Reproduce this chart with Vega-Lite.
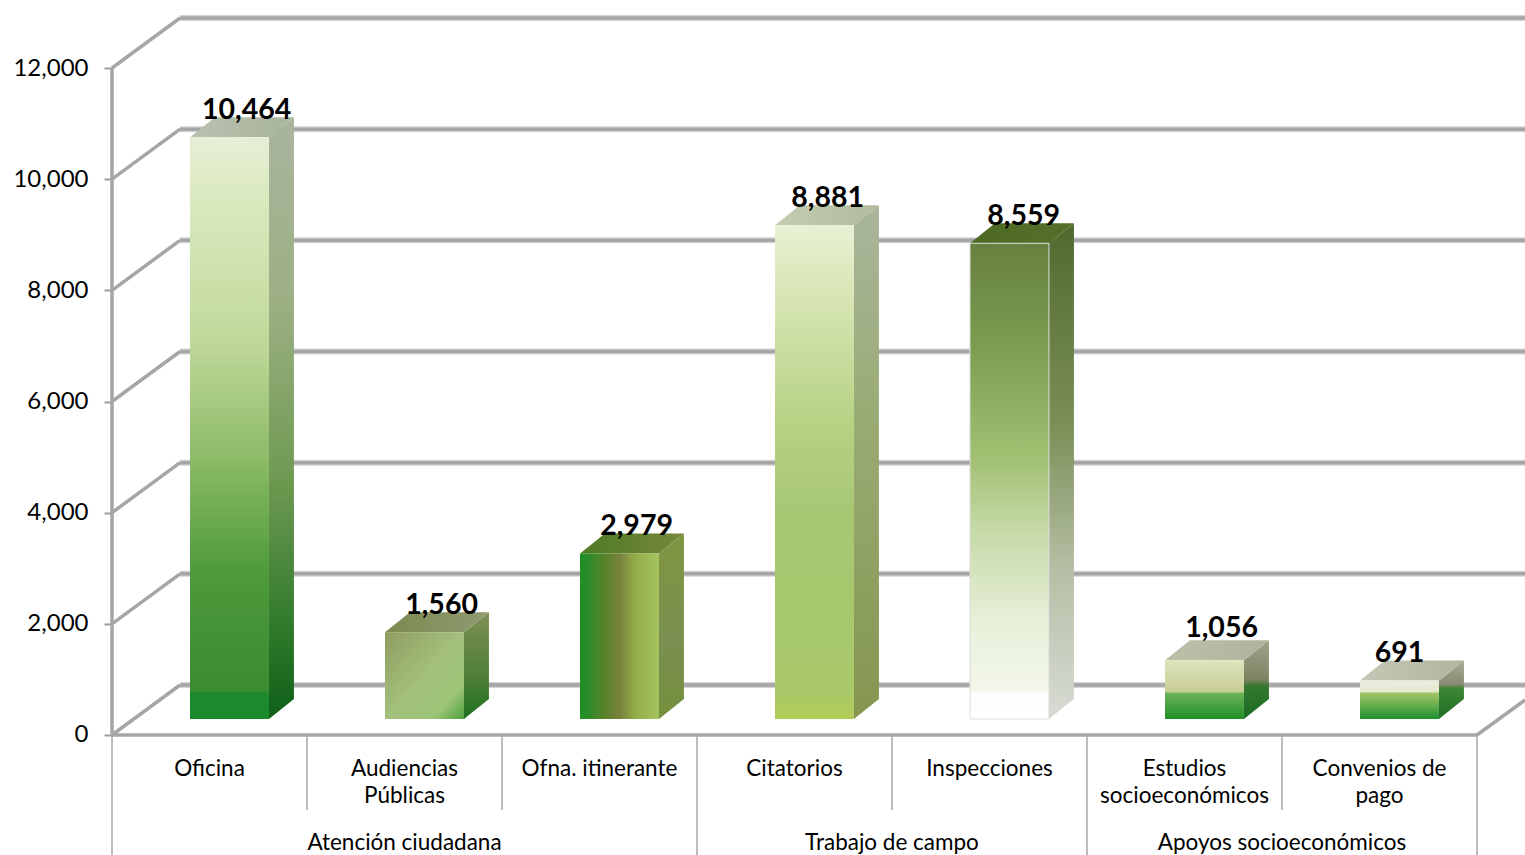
{
"$schema":"https://vega.github.io/schema/vega-lite/v6.json",
"width":1525,"height":855,"padding":0,"autosize":{"type":"none"},
"background":"white",
"view":{"stroke":null},
"config":{"font":"Lato"},
"datasets":{
"barras":[
{"orden":0,"grupo":"Atención ciudadana","categoria":"Oficina","valor":10464},
{"orden":1,"grupo":"Atención ciudadana","categoria":"Audiencias\nPúblicas","valor":1560},
{"orden":2,"grupo":"Atención ciudadana","categoria":"Ofna. itinerante","valor":2979},
{"orden":3,"grupo":"Trabajo de campo","categoria":"Citatorios","valor":8881},
{"orden":4,"grupo":"Trabajo de campo","categoria":"Inspecciones","valor":8559},
{"orden":5,"grupo":"Apoyos socioeconómicos","categoria":"Estudios\nsocioeconómicos","valor":1056},
{"orden":6,"grupo":"Apoyos socioeconómicos","categoria":"Convenios de\npago","valor":691}],
"reticula":[{"tick":0},{"tick":2000},{"tick":4000},{"tick":6000},{"tick":8000},{"tick":10000},{"tick":12000}],
"grupos":[{"grupo":"Atención ciudadana","inicio":0,"fin":3},{"grupo":"Trabajo de campo","inicio":3,"fin":5},{"grupo":"Apoyos socioeconómicos","inicio":5,"fin":7}],
"limites":[{"limite":0,"tipo":"grupo"},{"limite":1,"tipo":"categoria"},{"limite":2,"tipo":"categoria"},{"limite":3,"tipo":"grupo"},{"limite":4,"tipo":"categoria"},{"limite":5,"tipo":"grupo"},{"limite":6,"tipo":"categoria"},{"limite":7,"tipo":"grupo"}]
},
"layer":[
{"data":{"name":"reticula"},
 "transform":[{"calculate":"datum.tick+900","as":"fondo"},{"calculate":"0.349","as":"xa"},{"calculate":"7.2462","as":"xb"}],
 "mark":{"type":"rule","color":"#d4d4d4","strokeWidth":6},
 "encoding":{
  "x":{"field":"xa","type":"quantitative","axis":null,"scale":{"domain":[-0.5744,7.2462],"nice":false,"zero":false}},
  "x2":{"field":"xb"},
  "y":{"field":"fondo","type":"quantitative","title":null,"scale":{"domain":[-2159,13223.5],"nice":false,"zero":false},
   "axis":{"values":[0,2000,4000,6000,8000,10000,12000],"labelExpr":"format(datum.value, ',')","offset":-112,"domain":false,"grid":false,"tickSize":8,"tickColor":"#9a9a9a","tickWidth":2,"labelFont":"Lato","labelFontSize":24,"labelColor":"#000000","labelPadding":16,"labelFlush":false,"labelOverlap":false}}}},
{"data":{"name":"reticula"},
 "transform":[{"calculate":"datum.tick+900","as":"fondo"},{"calculate":"0.349","as":"xa"},{"calculate":"7.2462","as":"xb"}],
 "mark":{"type":"rule","color":"#a6a6a6","strokeWidth":3.5},
 "encoding":{
  "x":{"field":"xa","type":"quantitative","axis":null},
  "x2":{"field":"xb"},
  "y":{"field":"fondo","type":"quantitative","title":null}}},
{"data":{"name":"reticula"},
 "transform":[{"calculate":"datum.tick+900","as":"fondo"},{"calculate":"0","as":"xa"},{"calculate":"0.349","as":"xb"}],
 "mark":{"type":"rule","color":"#a6a6a6","strokeWidth":3.5},
 "encoding":{
  "x":{"field":"xa","type":"quantitative","axis":null},
  "x2":{"field":"xb"},
  "y":{"field":"tick","type":"quantitative","title":null},
  "y2":{"field":"fondo"}}},
{"data":{"values":[{"xa":0,"base":0,"techo":12000}]},
 "mark":{"type":"rule","color":"#a6a6a6","strokeWidth":3.5},
 "encoding":{
  "x":{"field":"xa","type":"quantitative","axis":null},
  "y":{"field":"base","type":"quantitative","title":null},
  "y2":{"field":"techo"}}},
{"data":{"values":[{"xa":0,"xb":7,"base":0}]},
 "mark":{"type":"rule","color":"#a6a6a6","strokeWidth":3.5},
 "encoding":{
  "x":{"field":"xa","type":"quantitative","axis":null},
  "x2":{"field":"xb"},
  "y":{"field":"base","type":"quantitative","title":null}}},
{"data":{"values":[{"xa":7,"xb":7.2462,"base":0,"fin":630}]},
 "mark":{"type":"rule","color":"#a6a6a6","strokeWidth":3.5},
 "encoding":{
  "x":{"field":"xa","type":"quantitative","axis":null},
  "x2":{"field":"xb"},
  "y":{"field":"base","type":"quantitative","title":null},
  "y2":{"field":"fin"}}},
{"data":{"name":"limites"},
 "transform":[{"filter":"datum.tipo==='categoria'"},{"calculate":"0","as":"ya"},{"calculate":"-1349","as":"yb"}],
 "mark":{"type":"rule","color":"#a6a6a6","strokeWidth":1.5},
 "encoding":{
  "x":{"field":"limite","type":"quantitative","axis":null},
  "y":{"field":"ya","type":"quantitative","title":null},
  "y2":{"field":"yb"}}},
{"data":{"name":"limites"},
 "transform":[{"filter":"datum.tipo==='grupo'"},{"calculate":"0","as":"ya"},{"calculate":"-2159","as":"yb"}],
 "mark":{"type":"rule","color":"#a6a6a6","strokeWidth":1.5},
 "encoding":{
  "x":{"field":"limite","type":"quantitative","axis":null},
  "y":{"field":"ya","type":"quantitative","title":null},
  "y2":{"field":"yb"}}},
{"data":{"name":"barras"},
 "transform":[{"calculate":"[0,1]","as":"t"},{"flatten":["t"]},
  {"calculate":"datum.orden+0.805+0.128*datum.t","as":"xs"},
  {"calculate":"288+360*datum.t","as":"ys"},
  {"calculate":"datum.ys+datum.valor","as":"ysb"},
  {"calculate":"datum.orden+0.4+0.128*datum.t","as":"xa"}],
 "layer":[
 {"transform":[{"filter":"datum.orden===0"}],"layer":[
  {"mark":{"type":"area","fill":{"gradient":"linear","x1":0,"y1":0,"x2":0,"y2":1,"stops":[{"offset":0,"color":"#a9b49e"},{"offset":0.3,"color":"#9db084"},{"offset":0.6,"color":"#6f9a52"},{"offset":0.85,"color":"#2f7a2a"},{"offset":1,"color":"#0f5f18"}]}},
   "encoding":{"x":{"field":"xs","type":"quantitative","axis":null},"y":{"field":"ys","type":"quantitative","title":null},"y2":{"field":"ysb"}}},
  {"mark":{"type":"area","orient":"horizontal","fill":{"gradient":"linear","x1":0,"y1":0,"x2":1,"y2":0,"stops":[{"offset":0,"color":"#b8c2ae"},{"offset":1,"color":"#a9b49e"}]}},
   "encoding":{"y":{"field":"ysb","type":"quantitative","title":null},"x":{"field":"xa","type":"quantitative","axis":null},"x2":{"field":"xs"}}},
  {"transform":[{"filter":"datum.t===0"}],"mark":{"type":"rect","fill":{"gradient":"linear","x1":0,"y1":0,"x2":0,"y2":1,"stops":[{"offset":0,"color":"#e6efd6"},{"offset":0.1,"color":"#dbeac0"},{"offset":0.35,"color":"#c0d99a"},{"offset":0.55,"color":"#8dbb68"},{"offset":0.75,"color":"#4e9a3c"},{"offset":0.952,"color":"#3a8c30"},{"offset":0.954,"color":"#1e8a2e"},{"offset":1,"color":"#178a2b"}]}},
   "encoding":{"x":{"field":"xa","type":"quantitative","axis":null},"x2":{"field":"xs"},"y":{"field":"ys","type":"quantitative","title":null},"y2":{"field":"ysb"}}}
 ]},
 {"transform":[{"filter":"datum.orden===1"}],"layer":[
  {"mark":{"type":"area","fill":{"gradient":"linear","x1":0,"y1":0,"x2":0,"y2":1,"stops":[{"offset":0,"color":"#7f9054"},{"offset":0.6,"color":"#4f7f38"},{"offset":1,"color":"#1f7020"}]}},
   "encoding":{"x":{"field":"xs","type":"quantitative","axis":null},"y":{"field":"ys","type":"quantitative","title":null},"y2":{"field":"ysb"}}},
  {"mark":{"type":"area","orient":"horizontal","fill":{"gradient":"linear","x1":0,"y1":0,"x2":1,"y2":0,"stops":[{"offset":0,"color":"#7d8a50"},{"offset":1,"color":"#8f9a70"}]}},
   "encoding":{"y":{"field":"ysb","type":"quantitative","title":null},"x":{"field":"xa","type":"quantitative","axis":null},"x2":{"field":"xs"}}},
  {"transform":[{"filter":"datum.t===0"}],"mark":{"type":"rect","fill":{"gradient":"linear","x1":0,"y1":0,"x2":1,"y2":1,"stops":[{"offset":0,"color":"#8f9d60"},{"offset":0.5,"color":"#a3c07c"},{"offset":0.8,"color":"#9cc577"},{"offset":1,"color":"#4ea03c"}]}},
   "encoding":{"x":{"field":"xa","type":"quantitative","axis":null},"x2":{"field":"xs"},"y":{"field":"ys","type":"quantitative","title":null},"y2":{"field":"ysb"}}}
 ]},
 {"transform":[{"filter":"datum.orden===2"}],"layer":[
  {"mark":{"type":"area","fill":{"gradient":"linear","x1":0,"y1":0,"x2":0,"y2":1,"stops":[{"offset":0,"color":"#7f9640"},{"offset":0.6,"color":"#7a8f50"},{"offset":1,"color":"#74903c"}]}},
   "encoding":{"x":{"field":"xs","type":"quantitative","axis":null},"y":{"field":"ys","type":"quantitative","title":null},"y2":{"field":"ysb"}}},
  {"mark":{"type":"area","orient":"horizontal","fill":{"gradient":"linear","x1":0,"y1":0,"x2":1,"y2":0,"stops":[{"offset":0,"color":"#4d7a22"},{"offset":1,"color":"#77883c"}]}},
   "encoding":{"y":{"field":"ysb","type":"quantitative","title":null},"x":{"field":"xa","type":"quantitative","axis":null},"x2":{"field":"xs"}}},
  {"transform":[{"filter":"datum.t===0"}],"mark":{"type":"rect","fill":{"gradient":"linear","x1":0,"y1":0,"x2":1,"y2":0,"stops":[{"offset":0,"color":"#1d8f26"},{"offset":0.12,"color":"#2f8a28"},{"offset":0.3,"color":"#57832a"},{"offset":0.5,"color":"#77803b"},{"offset":0.7,"color":"#94ad4b"},{"offset":1,"color":"#a3c45f"}]}},
   "encoding":{"x":{"field":"xa","type":"quantitative","axis":null},"x2":{"field":"xs"},"y":{"field":"ys","type":"quantitative","title":null},"y2":{"field":"ysb"}}}
 ]},
 {"transform":[{"filter":"datum.orden===3"}],"layer":[
  {"mark":{"type":"area","fill":{"gradient":"linear","x1":0,"y1":0,"x2":0,"y2":1,"stops":[{"offset":0,"color":"#a9b59c"},{"offset":0.4,"color":"#9aac75"},{"offset":1,"color":"#84964f"}]}},
   "encoding":{"x":{"field":"xs","type":"quantitative","axis":null},"y":{"field":"ys","type":"quantitative","title":null},"y2":{"field":"ysb"}}},
  {"mark":{"type":"area","orient":"horizontal","fill":{"gradient":"linear","x1":0,"y1":0,"x2":1,"y2":0,"stops":[{"offset":0,"color":"#c3ccb0"},{"offset":1,"color":"#b0bb9e"}]}},
   "encoding":{"y":{"field":"ysb","type":"quantitative","title":null},"x":{"field":"xa","type":"quantitative","axis":null},"x2":{"field":"xs"}}},
  {"transform":[{"filter":"datum.t===0"}],"mark":{"type":"rect","fill":{"gradient":"linear","x1":0,"y1":0,"x2":0,"y2":1,"stops":[{"offset":0,"color":"#e8f0d4"},{"offset":0.1,"color":"#dde9bd"},{"offset":0.4,"color":"#b6d284"},{"offset":0.6,"color":"#a6c672"},{"offset":0.94,"color":"#a9c96a"},{"offset":1,"color":"#b0cc55"}]}},
   "encoding":{"x":{"field":"xa","type":"quantitative","axis":null},"x2":{"field":"xs"},"y":{"field":"ys","type":"quantitative","title":null},"y2":{"field":"ysb"}}}
 ]},
 {"transform":[{"filter":"datum.orden===4"}],"layer":[
  {"mark":{"type":"area","fill":{"gradient":"linear","x1":0,"y1":0,"x2":0,"y2":1,"stops":[{"offset":0,"color":"#4f6a2e"},{"offset":0.4,"color":"#7a8e55"},{"offset":0.7,"color":"#b5bfa5"},{"offset":1,"color":"#d8dbd4"}]}},
   "encoding":{"x":{"field":"xs","type":"quantitative","axis":null},"y":{"field":"ys","type":"quantitative","title":null},"y2":{"field":"ysb"}}},
  {"mark":{"type":"area","orient":"horizontal","fill":{"gradient":"linear","x1":0,"y1":0,"x2":1,"y2":0,"stops":[{"offset":0,"color":"#4d6a22"},{"offset":1,"color":"#55702a"}]}},
   "encoding":{"y":{"field":"ysb","type":"quantitative","title":null},"x":{"field":"xa","type":"quantitative","axis":null},"x2":{"field":"xs"}}},
  {"transform":[{"filter":"datum.t===0"}],"mark":{"type":"rect","stroke":"#dcdcdc","strokeWidth":1,"fill":{"gradient":"linear","x1":0,"y1":0,"x2":0,"y2":1,"stops":[{"offset":0,"color":"#66813f"},{"offset":0.2,"color":"#7a9a4f"},{"offset":0.45,"color":"#a1c072"},{"offset":0.6,"color":"#c5d9a6"},{"offset":0.8,"color":"#e8f0da"},{"offset":0.94,"color":"#f3f7ea"},{"offset":0.945,"color":"#fdfdfb"},{"offset":1,"color":"#ffffff"}]}},
   "encoding":{"x":{"field":"xa","type":"quantitative","axis":null},"x2":{"field":"xs"},"y":{"field":"ys","type":"quantitative","title":null},"y2":{"field":"ysb"}}}
 ]},
 {"transform":[{"filter":"datum.orden===5"}],"layer":[
  {"mark":{"type":"area","fill":{"gradient":"linear","x1":0,"y1":0,"x2":0,"y2":1,"stops":[{"offset":0,"color":"#a0a38a"},{"offset":0.5,"color":"#7f8262"},{"offset":0.58,"color":"#34782f"},{"offset":1,"color":"#1a6b22"}]}},
   "encoding":{"x":{"field":"xs","type":"quantitative","axis":null},"y":{"field":"ys","type":"quantitative","title":null},"y2":{"field":"ysb"}}},
  {"mark":{"type":"area","orient":"horizontal","fill":{"gradient":"linear","x1":0,"y1":0,"x2":1,"y2":0,"stops":[{"offset":0,"color":"#bcc0a8"},{"offset":1,"color":"#b0b49e"}]}},
   "encoding":{"y":{"field":"ysb","type":"quantitative","title":null},"x":{"field":"xa","type":"quantitative","axis":null},"x2":{"field":"xs"}}},
  {"transform":[{"filter":"datum.t===0"}],"mark":{"type":"rect","fill":{"gradient":"linear","x1":0,"y1":0,"x2":0,"y2":1,"stops":[{"offset":0,"color":"#dfe5bc"},{"offset":0.54,"color":"#c7cc95"},{"offset":0.56,"color":"#6cb257"},{"offset":1,"color":"#1f9028"}]}},
   "encoding":{"x":{"field":"xa","type":"quantitative","axis":null},"x2":{"field":"xs"},"y":{"field":"ys","type":"quantitative","title":null},"y2":{"field":"ysb"}}}
 ]},
 {"transform":[{"filter":"datum.orden===6"}],"layer":[
  {"mark":{"type":"area","fill":{"gradient":"linear","x1":0,"y1":0,"x2":0,"y2":1,"stops":[{"offset":0,"color":"#a8ab94"},{"offset":0.4,"color":"#8a8d74"},{"offset":0.48,"color":"#3e8534"},{"offset":1,"color":"#1d6f26"}]}},
   "encoding":{"x":{"field":"xs","type":"quantitative","axis":null},"y":{"field":"ys","type":"quantitative","title":null},"y2":{"field":"ysb"}}},
  {"mark":{"type":"area","orient":"horizontal","fill":{"gradient":"linear","x1":0,"y1":0,"x2":1,"y2":0,"stops":[{"offset":0,"color":"#c4c8b4"},{"offset":1,"color":"#b0b4a0"}]}},
   "encoding":{"y":{"field":"ysb","type":"quantitative","title":null},"x":{"field":"xa","type":"quantitative","axis":null},"x2":{"field":"xs"}}},
  {"transform":[{"filter":"datum.t===0"}],"mark":{"type":"rect","fill":{"gradient":"linear","x1":0,"y1":0,"x2":0,"y2":1,"stops":[{"offset":0,"color":"#eaeddd"},{"offset":0.3,"color":"#e5e9cf"},{"offset":0.32,"color":"#a3c66a"},{"offset":0.6,"color":"#6fb04f"},{"offset":1,"color":"#1e9030"}]}},
   "encoding":{"x":{"field":"xa","type":"quantitative","axis":null},"x2":{"field":"xs"},"y":{"field":"ys","type":"quantitative","title":null},"y2":{"field":"ysb"}}}
 ]}
 ]},
{"data":{"name":"barras"},
 "transform":[
  {"calculate":"datum.orden+0.69+(datum.orden===6?-0.087:(datum.orden===3?-0.02:(datum.orden===4?-0.015:0)))","as":"xt"},
  {"calculate":"datum.valor+620+(datum.orden===5?90:0)","as":"yt"}],
 "mark":{"type":"text","font":"Lato","fontWeight":"bold","fontSize":28.5,"color":"#000000","align":"center","baseline":"alphabetic"},
 "encoding":{
  "x":{"field":"xt","type":"quantitative","axis":null},
  "y":{"field":"yt","type":"quantitative","title":null},
  "text":{"field":"valor","type":"quantitative","format":","}}},
{"data":{"name":"barras"},
 "transform":[{"calculate":"datum.orden+0.5","as":"xt"},{"calculate":"-738","as":"yt"}],
 "mark":{"type":"text","font":"Lato","fontSize":22.5,"color":"#000000","align":"center","baseline":"alphabetic","lineBreak":"\n","lineHeight":27},
 "encoding":{
  "x":{"field":"xt","type":"quantitative","axis":null},
  "y":{"field":"yt","type":"quantitative","title":null},
  "text":{"field":"categoria","type":"nominal"}}},
{"data":{"name":"grupos"},
 "transform":[{"calculate":"(datum.inicio+datum.fin)/2","as":"xt"},{"calculate":"-2069","as":"yt"}],
 "mark":{"type":"text","font":"Lato","fontSize":22.5,"color":"#000000","align":"center","baseline":"alphabetic"},
 "encoding":{
  "x":{"field":"xt","type":"quantitative","axis":null},
  "y":{"field":"yt","type":"quantitative","title":null},
  "text":{"field":"grupo","type":"nominal"}}}
]
}
